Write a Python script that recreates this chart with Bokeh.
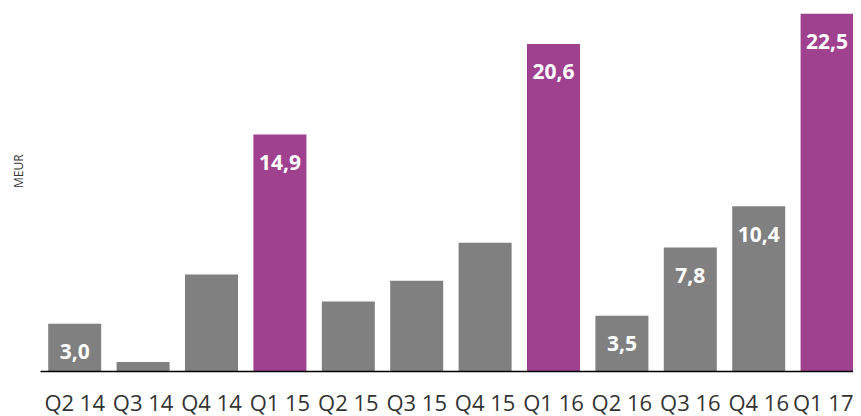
import math
from bokeh.plotting import figure
from bokeh.models import ColumnDataSource, Range1d, Label, FixedTicker
from bokeh.core.properties import value
from bokeh.embed import file_html
from bokeh.resources import INLINE

quarters = ["Q2 14", "Q3 14", "Q4 14", "Q1 15", "Q2 15", "Q3 15",
            "Q4 15", "Q1 16", "Q2 16", "Q3 16", "Q4 16", "Q1 17"]
values = [3.0, 0.6, 6.1, 14.9, 4.4, 5.7, 8.1, 20.6, 3.5, 7.8, 10.4, 22.5]
labels = ["3,0", "", "", "14,9", "", "", "", "20,6", "3,5", "7,8", "10,4", "22,5"]
y_label = "MEUR"

GRAY = "#808080"
PURPLE = "#a0418f"
colors = [PURPLE if q.startswith("Q1") else GRAY for q in quarters]
xs = list(range(1, len(quarters) + 1))

src = ColumnDataSource(dict(x=xs, q=quarters, v=values, c=colors, t=labels))

p = figure(x_range=Range1d(-0.085, 12.386),
           y_range=Range1d(0, 22.83),
           frame_width=853, frame_height=363,
           min_border_left=0, min_border_top=8, min_border_right=0,
           min_border_bottom=0,
           output_backend="svg", toolbar_location=None,
           background_fill_color="white", border_fill_color="white")
p.outline_line_color = None
p.xgrid.visible = False
p.ygrid.visible = False

p.vbar(x="x", top="v", width=0.775, bottom=0, color="c", line_color=None, source=src)

p.text(x="x", y="v", text="t", source=src, text_color="white",
       text_font=value("Open Sans"), text_font_style="bold",
       text_font_size="21px", text_align="center", text_baseline="middle",
       y_offset=28)

p.yaxis.visible = False

lab = Label(x=0.171, y=12.6, text=y_label, angle=math.pi / 2,
            text_align="center", text_baseline="middle",
            text_font="Open Sans", text_font_size="12px", text_color="#333333")
p.add_layout(lab)

xa = p.xaxis[0]
xa.ticker = FixedTicker(ticks=xs)
xa.major_label_overrides = {x: q for x, q in zip(xs, quarters)}
xa.bounds = (0.5, 12.386)
xa.axis_line_color = "black"
xa.axis_line_width = 1.5
xa.major_tick_line_color = None
xa.minor_tick_line_color = None
xa.major_tick_out = 0
xa.major_label_text_font = "Open Sans"
xa.major_label_text_font_size = "22px"
xa.major_label_text_color = "#333333"
xa.major_label_standoff = 15

open("out.html", "w").write(file_html(p, INLINE))
